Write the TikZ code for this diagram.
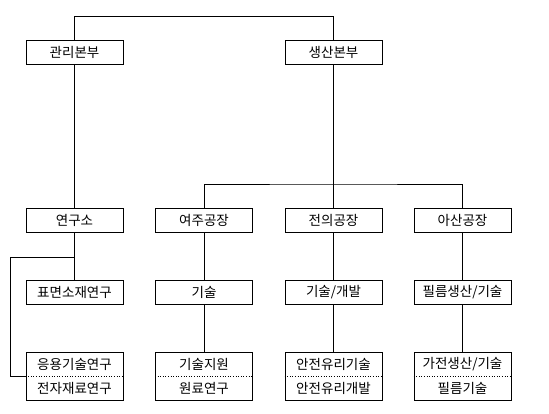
\documentclass[tikz,border=0pt]{standalone}
\usepackage{fontspec}
\setmainfont{Noto Sans CJK KR}
\begin{document}
\begin{tikzpicture}[x=1pt,y=-1pt,
  box/.style={draw=black,line width=0.9pt,rectangle,minimum width=97pt,minimum height=24pt,inner sep=0pt,font=\fontsize{13.5}{15}\selectfont},
  dbox/.style={draw=black,line width=0.9pt,rectangle,minimum width=97pt,minimum height=48pt,inner sep=0pt},
  txt/.style={inner sep=0pt,font=\fontsize{13.5}{15}\selectfont},
  conn/.style={draw=black,line width=0.8pt},
  sep/.style={draw=black,line width=0.6pt,dotted}]
\useasboundingbox (0,0) rectangle (549,413);
% row 1
\node[box] (gb) at (74.5,52) {관리본부};
\node[box] (sb) at (333.5,52) {생산본부};
% row 2
\node[box] (yg) at (74.5,220) {연구소};
\node[box] (yj) at (204,220) {여주공장};
\node[box] (jw) at (333.5,220) {전의공장};
\node[box] (as) at (462.5,220) {아산공장};
% row 3
\node[box] (ps) at (74.5,292) {표면소재연구};
\node[box] (g1) at (204,292) {기술};
\node[box] (g2) at (333.5,292) {기술/개발};
\node[box] (g3) at (462.5,292) {필름생산/기술};
% row 4
\node[dbox] (d1) at (74.5,376) {};
\node[txt] (d1a) at (74.5,364) {응용기술연구};
\node[txt] (d1b) at (74.5,388) {전자재료연구};
\node[dbox] (d2) at (204,376) {};
\node[txt] (d2a) at (204,364) {기술지원};
\node[txt] (d2b) at (204,388) {원료연구};
\node[dbox] (d3) at (333.5,376) {};
\node[txt] (d3a) at (333.5,364) {안전유리기술};
\node[txt] (d3b) at (333.5,388) {안전유리개발};
\node[dbox] (d4) at (462.5,376) {};
\node[txt] (d4a) at (462.5,364) {가전생산/기술};
\node[txt] (d4b) at (462.5,388) {필름기술};
\foreach \n in {d1,d2,d3,d4} \draw[sep] (\n.west) -- (\n.east);
% connectors
\coordinate (top) at (74.5,16);
\draw[conn] (gb.north) -- (top) -| (sb.north);
\draw[conn] (gb.south) -- (yg.north);
\coordinate (bus) at (333.5,184);
\draw[conn] (sb.south) -- (bus);
\draw[conn] (yj.north) |- (bus) -| (as.north);
\draw[conn] (bus) -- (jw.north);
\draw[conn] (yg.south) -- (ps.north);
\coordinate (lk) at (74.5,257);
\coordinate (lft) at (10,257);
\draw[conn] (lk) -- (lft) |- (d1.west);
\draw[conn] (yj.south) -- (g1.north);
\draw[conn] (jw.south) -- (g2.north);
\draw[conn] (as.south) -- (g3.north);
\draw[conn] (g1.south) -- (d2.north);
\draw[conn] (g2.south) -- (d3.north);
\draw[conn] (g3.south) -- (d4.north);
\end{tikzpicture}
\end{document}
